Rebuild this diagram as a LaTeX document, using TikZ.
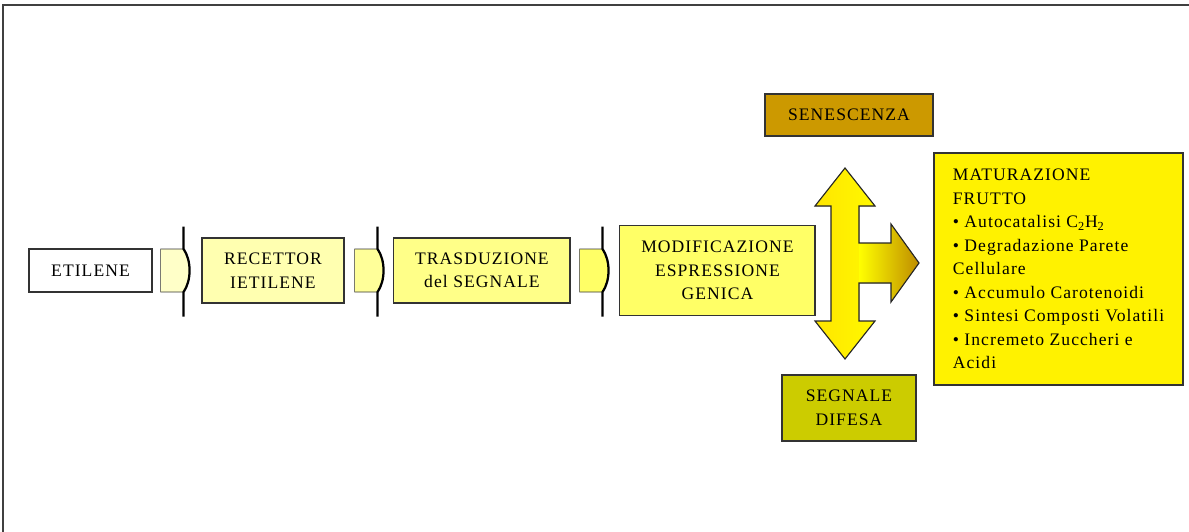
\documentclass[tikz,border=0pt]{standalone}
\usepackage{fontspec}
\newfontfamily\boxfont{Liberation Serif}[LetterSpace=6]
\usetikzlibrary{positioning}
\definecolor{arrowA}{HTML}{FFFFC8}
\definecolor{arrowB}{HTML}{FFFF99}
\definecolor{arrowC}{HTML}{FFFF66}
\definecolor{recfill}{HTML}{FFFFB0}
\definecolor{trafill}{HTML}{FFFF88}
\definecolor{modfill}{HTML}{FFFF66}
\definecolor{senfill}{HTML}{CC9900}
\definecolor{diffill}{HTML}{CCCC00}
\definecolor{gold}{RGB}{190,140,0}

\begin{document}
\begin{tikzpicture}[
  x=0.025cm, y=-0.025cm,
  font=\boxfont\fontsize{12.5}{16.7}\selectfont,
  node distance=1.22cm,
  box/.style={draw=black!80, line width=0.8pt, align=center, inner sep=2pt},
  pics/notch/.style={code={
    \path[draw=black!80, fill=#1] (0,-21.5) -- (23,-21.5)
      .. controls (31,-10) and (31,10) .. (23,21.5) -- (0,21.5) -- cycle;
    \draw[line width=1.6pt] (23,-44) -- (23,-21.5)
      .. controls (31,-10) and (31,10) .. (23,21.5) -- (23,46);
  }}
]
\useasboundingbox (0,0) rectangle (1189,532);
\draw[line width=1.5pt, black!75] (3,532) -- (3,5) -- (1189,5);

% main chain
\node[box, fill=white, minimum width=3.075cm, minimum height=1.075cm] (etilene) at (90.5,270.5) {ETILENE};
\node[box, fill=recfill, minimum width=3.55cm, minimum height=1.625cm, right=of etilene] (recettore) {RECETTOR\\IETILENE};
\node[box, fill=trafill, minimum width=4.4cm, minimum height=1.625cm, right=of recettore] (trasduzione) {TRASDUZIONE\\del SEGNALE};
\node[box, fill=modfill, minimum width=4.875cm, minimum height=2.25cm, right=of trasduzione] (modifica) {MODIFICAZIONE\\ESPRESSIONE\\GENICA};

\path (etilene.east) ++(8,0) pic {notch=arrowA};
\path (recettore.east) ++(10,0) pic {notch=arrowB};
\path (trasduzione.east) ++(9,0) pic {notch=arrowC};

% outcomes
\coordinate (hub) at (845,263);
\node[box, fill=senfill, minimum width=4.2cm, minimum height=1.05cm] (senescenza) at (849,115) {SENESCENZA};
\node[box, fill=diffill, minimum width=3.35cm, minimum height=1.65cm] (difesa) at (849,408) {SEGNALE\\DIFESA};
\node[box, fill=yellow, minimum width=6.225cm, minimum height=5.8cm, align=left] (maturazione) at (1058.5,269) {%
  MATURAZIONE\\
  FRUTTO\\
  \textbullet{} Autocatalisi C\textsubscript{2}H\textsubscript{2}\\
  \textbullet{} Degradazione Parete\\
  Cellulare\\
  \textbullet{} Accumulo Carotenoidi\\
  \textbullet{} Sintesi Composti Volatili\\
  \textbullet{} Incremeto Zuccheri e\\
  Acidi};

\begin{scope}[shift={(hub)}]
  \fill[left color=yellow!80!orange, middle color=yellow, right color=yellow!95!orange]
    (0,-95) -- (30,-57) -- (14,-57) -- (14,58) -- (30,58) -- (0,96)
    -- (-30,58) -- (-14,58) -- (-14,-57) -- (-30,-57) -- cycle;
  \fill[left color=yellow, right color=gold]
    (14,-20) -- (46,-20) -- (46,-39) -- (74,0) -- (46,39) -- (46,20) -- (14,20) -- cycle;
  \draw[black!85, line width=0.8pt]
    (0,-95) -- (30,-57) -- (14,-57) -- (14,-20) -- (46,-20) -- (46,-39) -- (74,0)
    -- (46,39) -- (46,20) -- (14,20) -- (14,58) -- (30,58) -- (0,96)
    -- (-30,58) -- (-14,58) -- (-14,-57) -- (-30,-57) -- cycle;
\end{scope}
\end{tikzpicture}
\end{document}
